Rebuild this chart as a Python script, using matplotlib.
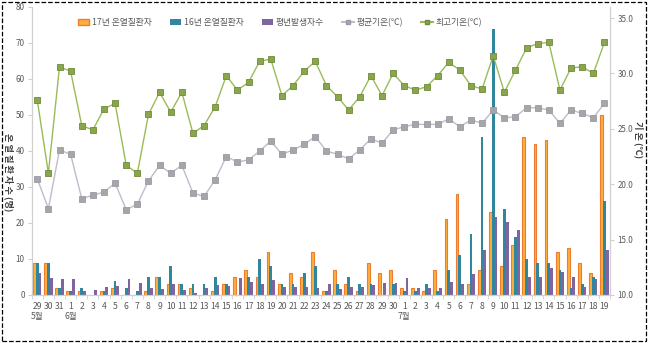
import numpy as np
import matplotlib
matplotlib.use("Agg")
import matplotlib.pyplot as plt
from matplotlib.patches import Rectangle
from matplotlib.lines import Line2D

plt.rcParams['font.family'] = ['Noto Sans CJK KR', 'DejaVu Sans']

# x categories: 5/29 .. 7/19
days = [29, 30, 31,
        1, 2, 3, 4, 5, 6, 7, 8, 9, 10, 11, 12, 13, 14, 15, 16, 17, 18, 19, 20,
        21, 22, 23, 24, 25, 26, 27, 28, 29, 30,
        1, 2, 3, 4, 5, 6, 7, 8, 9, 10, 11, 12, 13, 14, 15, 16, 17, 18, 19]
month_labels = {0: "5월", 3: "6월", 33: "7월"}

cases_2017 = [9, 9, 2, 1, 1, 0, 1, 2, 0, 0, 1, 5, 3, 3, 2, 0, 1, 3, 5, 7, 5, 12, 3, 6, 5, 12,
              1, 7, 3, 1, 9, 6, 7,
              2, 2, 1, 7, 21, 28, 3, 7, 23, 8, 14, 44, 42, 43, 12, 13, 9, 6, 50]
cases_2016 = [9, 9, 2, 1, 2, 0, 1, 4, 2, 1, 5, 5, 8, 3, 3, 3, 5, 3, 0, 5, 10, 8, 3, 3, 6, 8,
              1, 3, 5, 3, 3, 0, 3,
              1, 1, 3, 1, 7, 11, 17, 44, 74, 24, 16, 10, 9, 9, 7, 2, 3, 5, 26]
cases_normal = [6.2, 4.6, 4.4, 4.5, 1.2, 1.4, 2.2, 2.5, 4.5, 3.2, 1.9, 1.7, 3.1, 1.4, 0.6, 2.0,
                2.7, 2.5, 4.8, 3.7, 3.1, 4.1, 2.2, 2.2, 2.2, 2.0, 3.0, 1.6, 2.2, 2.3, 2.7, 3.2, 3.4,
                4.6, 2.0, 1.9, 2.0, 3.5, 3.1, 5.7, 12.4, 21.8, 20.4, 18.0, 5.1, 4.9, 7.5, 6.5,
                4.9, 2.3, 4.5, 12.4]
avg_temp = [20.5, 17.8, 23.1, 22.7, 18.7, 19.0, 19.3, 20.1, 17.7, 18.2, 20.3, 21.7, 21.0,
            21.7, 19.2, 18.9, 20.4, 22.5, 22.0, 22.2, 23.0, 23.9, 22.7, 23.1, 23.6, 24.3,
            23.0, 22.7, 22.3, 23.1, 24.1, 23.7, 24.9, 25.2, 25.4, 25.4, 25.4, 25.9, 25.2,
            25.8, 25.5, 26.7, 26.0, 26.1, 26.9, 26.9, 26.7, 25.5, 26.7, 26.4, 26.0, 27.3]
max_temp = [27.6, 21.0, 30.6, 30.2, 25.3, 24.9, 26.8, 27.3, 21.7, 21.0, 26.3, 28.3, 26.5,
            28.3, 24.6, 25.3, 27.0, 29.8, 28.5, 29.2, 31.1, 31.3, 28.0, 28.9, 30.2, 31.1,
            28.9, 27.9, 26.7, 27.9, 29.8, 28.0, 30.0, 28.9, 28.5, 28.8, 29.8, 31.0, 30.3,
            28.9, 28.6, 31.6, 28.3, 30.3, 32.3, 32.7, 32.8, 28.5, 30.5, 30.6, 30.0, 32.8]

ORANGE_FACE, ORANGE_EDGE = "#FBB03B", "#ED7D31"
TEAL = "#31859C"
PURPLE = "#8064A2"
GRAY_LINE, GRAY_MARK = "#BDBDCB", "#A6A6A6"
GREEN_LINE, GREEN_MARK = "#9BBB59", "#8AA64C"
TXT = "#595959"
AX = "#D0D0D0"

fig = plt.figure(figsize=(6.48, 3.43), dpi=100)
ax = fig.add_axes([31.7 / 648, 1 - 295 / 343, (610 - 31.7) / 648, 288 / 343])
ax2 = ax.twinx()

x = np.arange(len(days))
w = 0.25
ax.bar(x - w, cases_2017, w, color=ORANGE_FACE, edgecolor=ORANGE_EDGE, linewidth=0.8)
ax.bar(x, cases_2016, w, color=TEAL, linewidth=0)
ax.bar(x + w, cases_normal, w, color=PURPLE, linewidth=0)

ax2.plot(x, avg_temp, color=GRAY_LINE, lw=1, marker="s", ms=4,
         mfc=GRAY_MARK, mec="#9A9AA8", mew=0.6)
ax2.plot(x, max_temp, color=GREEN_LINE, lw=1, marker="s", ms=4,
         mfc=GREEN_MARK, mec="#6F8A3A", mew=0.6)

ax.set_xlim(-0.5, len(days) - 0.5)
ax.set_ylim(0, 80)
ax.set_yticks(range(0, 81, 10))
ax2.set_ylim(10, 36)
ax2.set_yticks(range(10, 36, 5))
ax2.set_yticklabels([f"{v:.1f}" for v in range(10, 36, 5)])

ax.set_xticks(x)
ax.set_xticklabels([str(d) for d in days])
ax.set_xticks(np.arange(-0.5, len(days), 1), minor=True)
ax.tick_params(axis="x", which="major", length=0, pad=5, labelsize=6.2, colors=TXT)
ax.tick_params(axis="x", which="minor", length=3, color=AX)
ax.tick_params(axis="y", length=3, color=AX, labelsize=5.8, colors=TXT, pad=2)
ax2.tick_params(axis="y", length=3, color=AX, labelsize=5.8, colors=TXT, pad=2.5)

for a in (ax, ax2):
    a.spines["top"].set_visible(False)
    for s in ("left", "right", "bottom"):
        a.spines[s].set_color(AX)
        a.spines[s].set_linewidth(0.8)

for i, lab in month_labels.items():
    ax.text(i, -0.076, lab, transform=ax.get_xaxis_transform(), ha="center", va="center",
            fontsize=6.2, color=TXT)

fig.text(9 / 648, 1 - 172 / 343, "온 열 질 환 자 수 (명)", rotation=270, ha="center",
         va="center", fontsize=6.6, fontweight="bold", color="#404040")
fig.text(638.5 / 648, 1 - 140 / 343, "기 온 (℃)", rotation=270, ha="center", va="center",
         fontsize=6.6, fontweight="bold", color="#404040")

handles = [
    Rectangle((0, 0), 1, 1, facecolor=ORANGE_FACE, edgecolor=ORANGE_EDGE, linewidth=1),
    Rectangle((0, 0), 1, 1, facecolor=TEAL),
    Rectangle((0, 0), 1, 1, facecolor=PURPLE),
    Line2D([], [], color=GRAY_LINE, marker="s", ms=3.5, mfc=GRAY_MARK, mec="#9A9AA8"),
    Line2D([], [], color=GREEN_LINE, marker="s", ms=3.5, mfc=GREEN_MARK, mec="#6F8A3A"),
]
labels = ["17년 온열질환자", "16년 온열질환자", "평년발생자수", "평균기온(℃)", "최고기온(℃)"]
leg = ax2.legend(handles, labels, loc="upper left",
                 bbox_to_anchor=((76 - 31.7) / 578.3, 1 - 9 / 288), ncol=5,
                 frameon=False, fontsize=6.3, columnspacing=2.1, handlelength=1.3,
                 handleheight=0.6, handletextpad=0.3, borderaxespad=0, borderpad=0.2)
for t in leg.get_texts():
    t.set_color(TXT)

fig.patches.append(Rectangle((0.003, 0.006), 0.994, 0.988, transform=fig.transFigure,
                             fill=False, linestyle="--", linewidth=0.9, edgecolor="black"))

fig.savefig("out.png", dpi=100)
